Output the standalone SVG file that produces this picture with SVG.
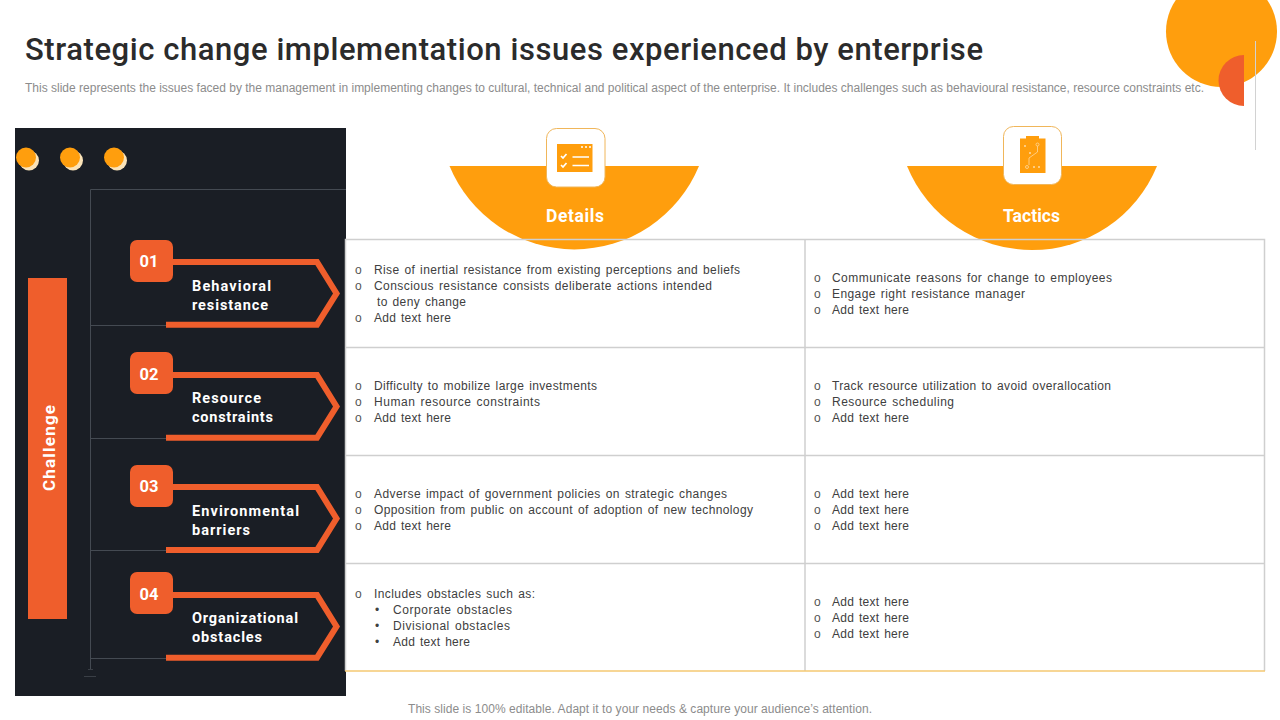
<svg xmlns="http://www.w3.org/2000/svg" width="1280" height="720" viewBox="0 0 1280 720">
<style>
text{font-family:"Liberation Sans",Arial,sans-serif}
.din{font-family:Roboto,"Liberation Sans",sans-serif}
.title{font-size:31px;font-weight:500;fill:#2b2b2b}
.sub{font-size:12px;fill:#8c8c8c}
.t{font-size:12px;fill:#404040;word-spacing:1.2px}
.o{font-size:12px;fill:#555}
.dot{font-size:12px;fill:#404040}
.w{fill:#fff;font-weight:700}
.lab{font-size:14.5px}
.num{font-size:16.500px;text-anchor:middle}
.hd{font-size:17.500px;font-weight:700;fill:#fff;text-anchor:middle}
.thin{stroke:#444a52;stroke-width:1;fill:none}
.chev{fill:none;stroke:#ef5e2c;stroke-width:6;stroke-miterlimit:10}
.box{fill:#ef5e2c}
.grid{stroke:#cfcfcf;stroke-width:1.5;fill:none}
.or{fill:#ff9e0d}
.card{fill:#fff;stroke:#f0b65a;stroke-width:1}
</style>
<rect width="1280" height="720" fill="#fff"/>
<g id="decor">
<circle cx="1221.5" cy="31.5" r="55.5" class="or"/>
<path d="M1244 55A25.500 25.500 0 0 0 1244 106Z" fill="#ef5e2c"/>
<path d="M1255.500 41V150" stroke="#d2d2d2" stroke-width="1"/>
</g>
<g id="heading">
<text class="din title" x="25" y="59.500" textLength="958">Strategic change implementation issues experienced by enterprise</text>
<text class="sub" x="25" y="92" textLength="1179">This slide represents the issues faced by the management in implementing changes to cultural, technical and political aspect of the enterprise. It includes challenges such as behavioural resistance, resource constraints etc.</text>
</g>
<g id="panel">
<rect x="15" y="128" width="331" height="568" fill="#1a1e25"/>
<g fill="#fbe3b8"><circle cx="29" cy="160.500" r="10"/><circle cx="73" cy="160.500" r="10"/><circle cx="117" cy="160.500" r="10"/></g>
<g class="or"><circle cx="26" cy="157.500" r="10"/><circle cx="70" cy="157.500" r="10"/><circle cx="114" cy="157.500" r="10"/></g>
<rect x="28" y="278" width="39" height="341" class="box"/>
<text class="din w" font-size="17" transform="translate(55 491) rotate(-90)" textLength="86">Challenge</text>
</g>
<g id="connectors">
<path class="thin" d="M346 189.500H90.500V670M90.500 325.500H166M90.500 438.500H166M90.500 550.500H166M90.500 658.500H166"/>
<path d="M88 669.500H93M84 676.500H96" stroke="#3a3f46" stroke-width="1"/>
</g>
<g id="node-01">
<path class="chev" d="M170 262H317L336.500 293.500L317 324.700H166"/>
<rect x="130" y="240" width="43" height="42" rx="7" class="box"/>
<text class="din w num" x="149" y="267">01</text>
<text class="din w lab" x="192" y="291" textLength="79">Behavioral</text>
<text class="din w lab" x="192" y="310" textLength="76">resistance</text>
</g>
<g id="node-02">
<path class="chev" d="M170 375H317L336.500 406.500L317 437.800H166"/>
<rect x="130" y="352" width="43" height="42" rx="7" class="box"/>
<text class="din w num" x="149" y="380">02</text>
<text class="din w lab" x="192" y="403" textLength="69">Resource</text>
<text class="din w lab" x="192" y="422" textLength="81">constraints</text>
</g>
<g id="node-03">
<path class="chev" d="M170 487H317L336.500 518.500L317 550H166"/>
<rect x="130" y="465" width="43" height="42" rx="7" class="box"/>
<text class="din w num" x="149" y="492">03</text>
<text class="din w lab" x="192" y="516" textLength="107">Environmental</text>
<text class="din w lab" x="192" y="535" textLength="58">barriers</text>
</g>
<g id="node-04">
<path class="chev" d="M170 595H317L336.500 626.500L317 657.700H166"/>
<rect x="130" y="572" width="43" height="42" rx="7" class="box"/>
<text class="din w num" x="149" y="600">04</text>
<text class="din w lab" x="192" y="623" textLength="106">Organizational</text>
<text class="din w lab" x="192" y="642" textLength="70">obstacles</text>
</g>
<g id="details-head">
<path d="M449.500 166H699A135 135 0 0 1 449.500 166Z" class="or"/>
<rect x="546.500" y="128.500" width="58.500" height="58.500" rx="10" class="card"/>
<rect x="557" y="144" width="35.500" height="28" class="or"/>
<path d="M581 147h2m2 0h2m2 0h2M572.500 157H589M572.500 165.500H589" stroke="#fff" stroke-width="1.500" fill="none"/>
<path d="M561 156l2 2 3.500-4M561 165l2 2 3.500-4" stroke="#fff" stroke-width="1.700" fill="none"/>
<text class="din hd" x="575" y="221.500" textLength="58">Details</text>
</g>
<g id="tactics-head">
<path d="M907 166H1157A135 135 0 0 1 907 166Z" class="or"/>
<rect x="1003.500" y="126.500" width="58" height="58" rx="10" class="card"/>
<rect x="1020" y="138.500" width="25.500" height="34.500" class="or"/>
<rect x="1026" y="136" width="13" height="3" class="or"/>
<path d="M1037.500 146V152L1029 158V165M1024 145l2 2m0-2l-2 2M1029 152l2 2m0-2l-2 2M1038 166l2 2m0-2l-2 2M1033 166l2 2m0-2l-2 2" stroke="#ffd79a" stroke-width="0.800" fill="none"/>
<circle cx="1037.500" cy="144.500" r="1.500" fill="none" stroke="#ffd79a" stroke-width="0.800"/>
<circle cx="1027" cy="167" r="1.500" fill="none" stroke="#ffd79a" stroke-width="0.800"/>
<text class="din hd" x="1031.500" y="221.500" textLength="57">Tactics</text>
</g>
<g id="table">
<path class="grid" d="M345.500 671V239.500H1264.500V671M345.500 347.500H1264.500M345.500 455.500H1264.500M345.500 563.500H1264.500M805 239.500V671"/>
<path d="M345 671H1265" stroke="#f5c872" stroke-width="1.500"/>
</g>
<g id="cell-r1-details">
<text class="o" x="355" y="274">o</text><text class="t" x="374" y="274" textLength="366">Rise of inertial resistance from existing perceptions and beliefs</text>
<text class="o" x="355" y="290">o</text><text class="t" x="374" y="290" textLength="338">Conscious resistance consists deliberate actions intended</text>
<text class="t" x="377" y="306" textLength="89">to deny change</text>
<text class="o" x="355" y="322">o</text><text class="t" x="374" y="322" textLength="77">Add text here</text>
</g>
<g id="cell-r1-tactics">
<text class="o" x="814" y="282">o</text><text class="t" x="832" y="282" textLength="280">Communicate reasons for change to employees</text>
<text class="o" x="814" y="298">o</text><text class="t" x="832" y="298" textLength="193">Engage right resistance manager</text>
<text class="o" x="814" y="314">o</text><text class="t" x="832" y="314" textLength="77">Add text here</text>
</g>
<g id="cell-r2-details">
<text class="o" x="355" y="390">o</text><text class="t" x="374" y="390" textLength="223">Difficulty to mobilize large investments</text>
<text class="o" x="355" y="406">o</text><text class="t" x="374" y="406" textLength="166">Human resource constraints</text>
<text class="o" x="355" y="422">o</text><text class="t" x="374" y="422" textLength="77">Add text here</text>
</g>
<g id="cell-r2-tactics">
<text class="o" x="814" y="390">o</text><text class="t" x="832" y="390" textLength="279">Track resource utilization to avoid overallocation</text>
<text class="o" x="814" y="406">o</text><text class="t" x="832" y="406" textLength="122">Resource scheduling</text>
<text class="o" x="814" y="422">o</text><text class="t" x="832" y="422" textLength="77">Add text here</text>
</g>
<g id="cell-r3-details">
<text class="o" x="355" y="498">o</text><text class="t" x="374" y="498" textLength="353">Adverse impact of government policies on strategic changes</text>
<text class="o" x="355" y="514">o</text><text class="t" x="374" y="514" textLength="379">Opposition from public on account of adoption of new technology</text>
<text class="o" x="355" y="530">o</text><text class="t" x="374" y="530" textLength="77">Add text here</text>
</g>
<g id="cell-r3-tactics">
<text class="o" x="814" y="498">o</text><text class="t" x="832" y="498" textLength="77">Add text here</text>
<text class="o" x="814" y="514">o</text><text class="t" x="832" y="514" textLength="77">Add text here</text>
<text class="o" x="814" y="530">o</text><text class="t" x="832" y="530" textLength="77">Add text here</text>
</g>
<g id="cell-r4-details">
<text class="o" x="355" y="598">o</text><text class="t" x="374" y="598" textLength="161">Includes obstacles such as:</text>
<text class="dot" x="375" y="614">•</text><text class="t" x="393" y="614" textLength="119">Corporate obstacles</text>
<text class="dot" x="375" y="630">•</text><text class="t" x="393" y="630" textLength="117">Divisional obstacles</text>
<text class="dot" x="375" y="646">•</text><text class="t" x="393" y="646" textLength="77">Add text here</text>
</g>
<g id="cell-r4-tactics">
<text class="o" x="814" y="606">o</text><text class="t" x="832" y="606" textLength="77">Add text here</text>
<text class="o" x="814" y="622">o</text><text class="t" x="832" y="622" textLength="77">Add text here</text>
<text class="o" x="814" y="638">o</text><text class="t" x="832" y="638" textLength="77">Add text here</text>
</g>
<text id="footer" class="sub" x="408" y="713" textLength="464">This slide is 100% editable. Adapt it to your needs &amp; capture your audience’s attention.</text>
</svg>
